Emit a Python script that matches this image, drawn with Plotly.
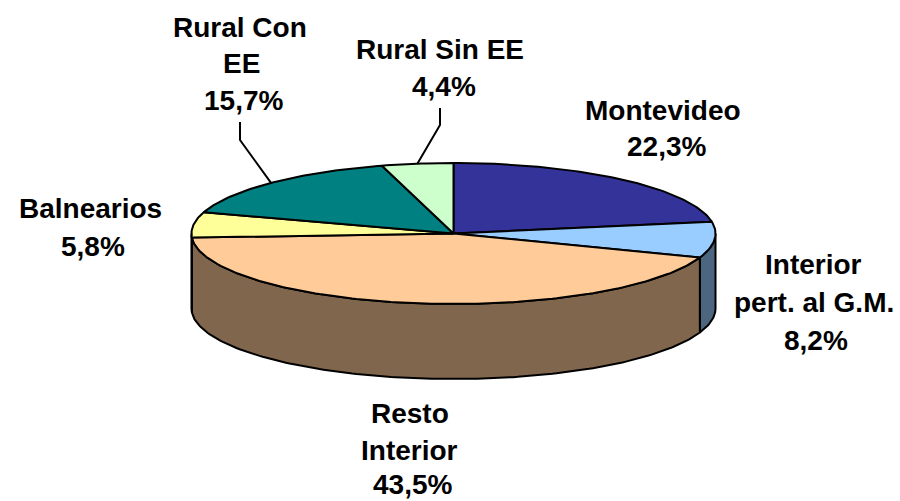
import math
import plotly.graph_objects as go

categories = ["Montevideo", "Interior pert. al G.M.", "Resto Interior", "Balnearios", "Rural Con EE", "Rural Sin EE"]
values = [22.3, 8.2, 43.5, 5.8, 15.7, 4.4]
value_labels = ["22,3%", "8,2%", "43,5%", "5,8%", "15,7%", "4,4%"]
label_lines = [["Montevideo"], ["Interior", "pert. al G.M."], ["Resto", "Interior"],
               ["Balnearios"], ["Rural Con", "EE"], ["Rural Sin EE"]]

top_colors = ["#333399", "#99CCFF", "#FFCC99", "#FFFF99", "#008080", "#CCFFCC"]
side_colors = ["#1A1A4D", "#4D6680", "#80664D", "#80804D", "#004040", "#668066"]

# Projection of the tilted disc on the page
CX, CY, RX, RY, DEPTH = 453.5, 233.5, 262, 70.5, 75
LINE = dict(color="black", width=2)
FONT = dict(family="Liberation Sans, Arial, sans-serif", size=28, color="black")

# Label layout: centre x and y of each text row
label_pos = [[(663, 110), (666, 146)],
             [(813, 264), (813.5, 302), (816, 340)],
             [(410, 413), (409, 450), (412, 484)],
             [(90, 208), (93, 246)],
             [(240, 27), (241, 63), (243, 100)],
             [(440, 49), (444, 86)]]
# Leader lines: label-side start and elbow, for the two rural slices
leaders = {4: [(240, 122), (240, 140)], 5: [(440, 108), (440, 125)]}


def pt(deg, dy=0):
    r = math.radians(deg)
    return CX + RX * math.sin(r), CY - RY * math.cos(r) + dy


def arc(a, b, dy=0):
    n = max(2, int(abs(b - a)) + 2)
    return [pt(a + (b - a) * i / (n - 1), dy) for i in range(n)]


total = sum(values)
bounds = [0]
for v in values:
    bounds.append(bounds[-1] + v / total * 360)

fig = go.Figure()


def poly(points, fill):
    xs = [p[0] for p in points] + [points[0][0]]
    ys = [p[1] for p in points] + [points[0][1]]
    fig.add_trace(go.Scatter(x=xs, y=ys, mode="lines", fill="toself", fillcolor=fill,
                             line=LINE, hoverinfo="skip", showlegend=False))


# Outer wall: only the part of each slice facing the viewer (90..270 degrees)
for i in range(len(values)):
    a, b = max(bounds[i], 90), min(bounds[i + 1], 270)
    if b > a:
        poly(arc(a, b) + arc(b, a, DEPTH), side_colors[i])

# Top face
for i in range(len(values)):
    poly([(CX, CY)] + arc(bounds[i], bounds[i + 1]), top_colors[i])

# Leader lines end on the rim at the slice's mid angle
for i, start in leaders.items():
    end = pt((bounds[i] + bounds[i + 1]) / 2)
    pts = start + [end]
    fig.add_trace(go.Scatter(x=[p[0] for p in pts], y=[p[1] for p in pts], mode="lines",
                             line=dict(color="black", width=2), hoverinfo="skip", showlegend=False))

# Labels
annotations = []
for lines, val, rows in zip(label_lines, value_labels, label_pos):
    for text, (x, y) in zip(lines + [val], rows):
        annotations.append(dict(x=x, y=y, xref="x", yref="y", text=f"<b>{text}</b>", showarrow=False,
                                xanchor="center", yanchor="middle", font=FONT))

fig.update_layout(
    width=900, height=501, margin=dict(l=0, r=0, t=0, b=0),
    paper_bgcolor="white", plot_bgcolor="white", showlegend=False, annotations=annotations,
    xaxis=dict(range=[0, 900], visible=False, fixedrange=True),
    yaxis=dict(range=[501, 0], visible=False, fixedrange=True),
)
fig.write_html("out.html", config={"displayModeBar": False},
               post_script="document.body.style.margin='0';document.body.style.overflow='hidden';")
